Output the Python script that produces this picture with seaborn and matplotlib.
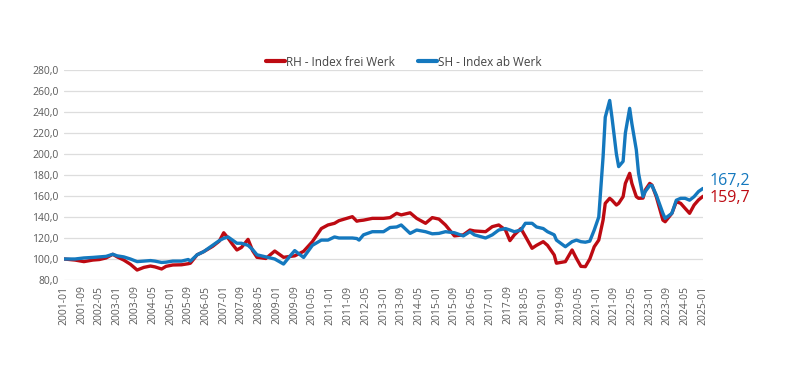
import matplotlib
matplotlib.use("Agg")
import matplotlib.pyplot as plt
import seaborn as sns
import pandas as pd

months = ["2001-01","2001-06","2001-10","2002-02","2002-05","2002-08","2002-11","2003-01","2003-04","2003-07",
          "2003-10","2004-01","2004-04","2004-06","2004-09","2004-11","2005-02","2005-06","2005-09","2005-10",
          "2006-01","2006-04","2006-08","2006-11","2007-01","2007-03","2007-05","2007-07","2007-09","2007-12",
          "2008-02","2008-04","2008-08","2008-12","2009-04","2009-07","2009-09","2010-01","2010-05","2010-09",
          "2010-12","2011-03","2011-05","2011-11","2012-01","2012-02","2012-04","2012-08","2013-01","2013-04",
          "2013-07","2013-09","2014-01","2014-04","2014-08","2014-11","2015-02","2015-05","2015-09","2016-01",
          "2016-04","2016-06","2016-11","2017-02","2017-05","2017-08","2017-10","2017-12","2018-03","2018-05",
          "2018-08","2018-10","2019-01","2019-03","2019-06","2019-07","2019-11","2020-02","2020-04","2020-06",
          "2020-08","2020-10","2020-12","2021-02","2021-04","2021-05","2021-07","2021-08","2021-10","2021-11",
          "2022-01","2022-02","2022-04","2022-05","2022-07","2022-08","2022-10","2022-11","2023-01","2023-02",
          "2023-04","2023-07","2023-08","2023-11","2024-01","2024-03","2024-05","2024-07","2024-09","2024-11",
          "2025-01"]

rh_values = [100, 99, 97.5, 99, 99.5, 101, 104.5, 102, 99, 95,
             89.5, 92, 93.3, 92.5, 90.5, 93, 94.3, 94.5, 95.5, 96,
             104, 107, 112, 117, 125, 120, 114, 108.6, 111, 118.7,
             108, 101.6, 100.5, 107.6, 101.6, 102.5, 103, 107.3, 116.5, 129,
             132.4, 134, 136.5, 140.3, 136, 136.5, 137, 138.7, 138.7, 139.4,
             143.5, 142, 144, 138.7, 134, 139.4, 138, 132.4, 122, 123,
             127.6, 126.7, 126, 130.8, 132.4, 127.6, 117.5, 123, 129, 121.6,
             110.2, 113, 116.5, 113, 103.8, 96, 97.5, 108.6, 100.5, 93,
             92.7, 100, 111.7, 118, 137, 153, 157.8, 156, 151.4, 153,
             159.4, 172, 181.6, 172, 159.4, 157.8, 158, 165.7, 172, 170.4,
             159.4, 137, 135.5, 143.5, 154.6, 153, 148.2, 143.5, 151.4, 156.3,
             159.7]

sh_values = [100, 100, 101, 101.5, 102, 102.5, 104.5, 103, 102, 100,
             97.5, 98, 98.5, 98, 96.7, 97, 98, 98, 99.5, 98,
             104, 107, 113, 117.5, 119.7, 121, 118, 115, 115, 113,
             109, 104, 102, 100, 95.2, 103, 108, 101.5, 113, 118,
             118, 121, 120, 120, 119.5, 118, 123, 126, 126, 130,
             130.5, 132.4, 124.4, 127.6, 126, 124, 124.4, 126, 125, 122,
             126, 123, 120, 123, 127.6, 129, 127.6, 126, 127.6, 134,
             134, 130.5, 129, 126, 123, 118, 111.7, 116.5, 118, 116.5,
             116, 117, 127.6, 140, 197, 235, 251, 235, 200, 188,
             193, 220, 243.5, 229, 204, 181.6, 159.4, 164.3, 170, 170,
             161, 143.5, 138.7, 143.5, 156, 157.8, 157.8, 156, 159.4, 164.3,
             167.2]

series_names = ["RH - Index frei Werk", "SH - Index ab Werk"]
end_labels = ["159,7", "167,2"]
colors = ["#BD0A12", "#1478BE"]

dates = pd.to_datetime(months)
df = pd.concat([
    pd.DataFrame({"date": dates, "value": rh_values, "series": series_names[0]}),
    pd.DataFrame({"date": dates, "value": sh_values, "series": series_names[1]}),
])

sns.set_theme(style="white")
plt.rcParams["font.family"] = ["Open Sans", "DejaVu Sans"]

fig = plt.figure(figsize=(8.05, 3.86), dpi=100)
ax = fig.add_axes([64/805, 1-280/386, (703-64)/805, 210/386])

sns.lineplot(data=df, x="date", y="value", hue="series", palette=colors,
             linewidth=2.4, ax=ax, legend=True)

ax.set_ylim(80, 280)
ax.set_yticks(range(80, 281, 20))
ax.set_yticklabels([f"{v},0" for v in range(80, 281, 20)])
ax.set_xlim(dates[0], dates[-1])
ticks = pd.date_range("2001-01-01", "2025-01-01", freq="8MS")
ax.set_xticks(ticks)
ax.set_xticklabels([t.strftime("%Y-%m") for t in ticks], rotation=90)
ax.tick_params(axis="both", labelsize=7.5, colors="#5A5A5A", length=0, pad=4)
ax.grid(axis="y", color="#DDDDDD", linewidth=0.9)
ax.grid(axis="x", visible=False)
ax.set_axisbelow(True)
for s in ax.spines.values():
    s.set_visible(False)
ax.set_xlabel("")
ax.set_ylabel("")

leg = ax.legend(loc="center", bbox_to_anchor=(404/805, 1-62/386), bbox_transform=fig.transFigure,
                ncol=2, frameon=False, fontsize=8.5, handlelength=1.6, handletextpad=0.05,
                columnspacing=2.0)
for t in leg.get_texts():
    t.set_color("#444444")
for line in leg.get_lines():
    line.set_linewidth(3)

ax.annotate(end_labels[1], xy=(dates[-1], sh_values[-1]), xytext=(5, 5), textcoords="offset points",
            color=colors[1], fontsize=11.5, va="center", ha="left")
ax.annotate(end_labels[0], xy=(dates[-1], rh_values[-1]), xytext=(5, -1), textcoords="offset points",
            color=colors[0], fontsize=11.5, va="center", ha="left")

fig.savefig("out.png", dpi=100)
